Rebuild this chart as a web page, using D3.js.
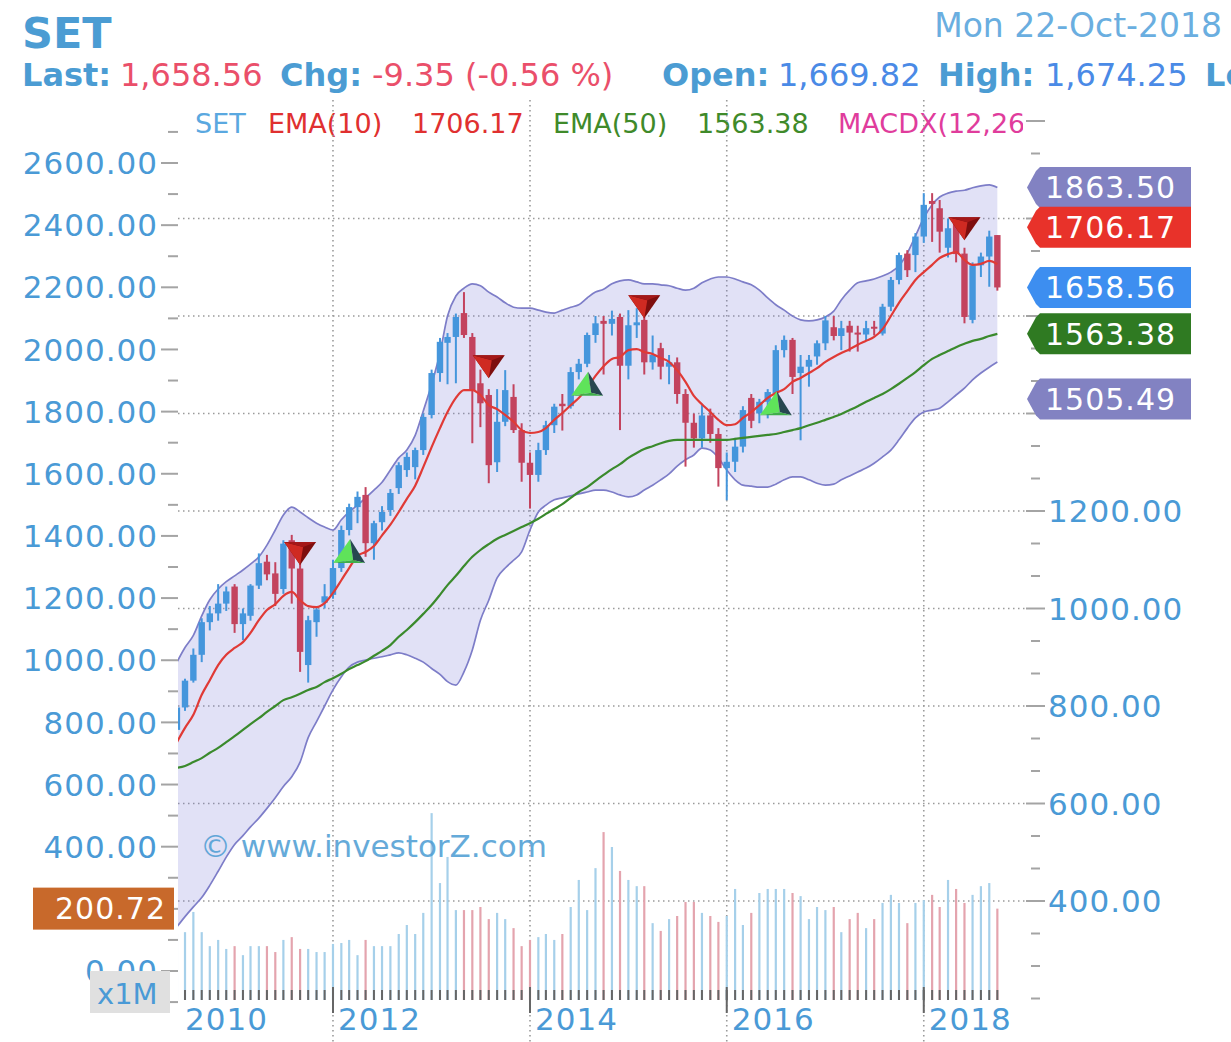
<!DOCTYPE html>
<html><head><meta charset="utf-8">
<script src="https://cdn.jsdelivr.net/npm/d3@7/dist/d3.min.js"></script>
<style>
html,body{margin:0;padding:0;background:#fff;}
svg{display:block;font-family:"DejaVu Sans",Verdana,sans-serif;}
</style></head><body>
<svg id="chart" width="1231" height="1042"></svg>
<script>
// ---------- DATA ----------
const months = [
"2010-06","2010-07","2010-08","2010-09","2010-10","2010-11","2010-12",
"2011-01","2011-02","2011-03","2011-04","2011-05","2011-06","2011-07","2011-08","2011-09","2011-10","2011-11","2011-12",
"2012-01","2012-02","2012-03","2012-04","2012-05","2012-06","2012-07","2012-08","2012-09","2012-10","2012-11","2012-12",
"2013-01","2013-02","2013-03","2013-04","2013-05","2013-06","2013-07","2013-08","2013-09","2013-10","2013-11","2013-12",
"2014-01","2014-02","2014-03","2014-04","2014-05","2014-06","2014-07","2014-08","2014-09","2014-10","2014-11","2014-12",
"2015-01","2015-02","2015-03","2015-04","2015-05","2015-06","2015-07","2015-08","2015-09","2015-10","2015-11","2015-12",
"2016-01","2016-02","2016-03","2016-04","2016-05","2016-06","2016-07","2016-08","2016-09","2016-10","2016-11","2016-12",
"2017-01","2017-02","2017-03","2017-04","2017-05","2017-06","2017-07","2017-08","2017-09","2017-10","2017-11","2017-12",
"2018-01","2018-02","2018-03","2018-04","2018-05","2018-06","2018-07","2018-08","2018-09","2018-10"];

const open = [
751,797,852,905,972,990,1010,
1045,968,985,1047,1096,1072,1040,1140,1082,884,972,1012,
1028,1083,1161,1208,1233,1134,1177,1202,1247,1284,1290,1325,
1397,1483,1545,1557,1606,1557,1462,1438,1300,1383,1434,1366,
1299,1274,1325,1376,1420,1415,1485,1502,1561,1590,1584,1598,
1498,1581,1592,1505,1534,1496,1505,1440,1381,1349,1396,1358,
1288,1301,1332,1432,1400,1424,1441,1530,1551,1483,1496,1517,
1544,1577,1559,1580,1566,1562,1578,1564,1619,1674,1728,1725,
1763,1836,1821,1740,1790,1728,1592,1704,1722,1766];
const high = [
800,856,918,980,1005,1050,1045,
1050,1000,1050,1113,1110,1095,1140,1151,1095,985,1005,1050,
1100,1170,1215,1240,1249,1180,1210,1245,1300,1320,1330,1400,
1490,1555,1565,1605,1649,1565,1490,1450,1450,1489,1460,1380,
1320,1340,1385,1420,1440,1495,1512,1566,1600,1600,1611,1605,
1612,1616,1600,1560,1545,1520,1515,1450,1400,1420,1410,1370,
1320,1350,1415,1440,1430,1450,1540,1560,1555,1520,1520,1550,
1600,1600,1590,1590,1580,1590,1590,1625,1680,1730,1735,1770,
1852,1852,1838,1800,1802,1740,1710,1730,1775,1766];
const low = [
738,790,848,890,955,975,995,
950,935,975,1040,1058,1005,1030,1010,870,848,942,1000,
1020,1075,1150,1175,1106,1100,1160,1190,1235,1270,1265,1315,
1390,1465,1460,1462,1555,1339,1372,1257,1280,1374,1360,1260,
1205,1260,1315,1360,1365,1410,1470,1495,1545,1480,1560,1366,
1470,1555,1480,1490,1470,1460,1420,1291,1330,1330,1340,1250,
1222,1280,1320,1370,1380,1390,1430,1515,1440,1345,1455,1500,
1530,1550,1530,1527,1527,1550,1560,1560,1610,1665,1680,1690,
1750,1752,1730,1720,1710,1585,1585,1680,1660,1652];
const close = [
797,852,905,972,990,1010,1035,
968,990,1047,1093,1070,1030,1133,1082,911,976,998,1025,
1083,1161,1208,1229,1134,1175,1198,1237,1294,1311,1325,1393,
1483,1547,1557,1598,1561,1448,1421,1294,1383,1448,1366,1299,
1274,1325,1376,1414,1415,1485,1502,1561,1585,1584,1594,1498,
1581,1587,1505,1520,1496,1505,1440,1381,1349,1396,1358,1288,
1301,1332,1407,1385,1424,1444,1530,1551,1475,1496,1510,1544,
1591,1559,1575,1566,1562,1575,1576,1619,1674,1725,1694,1763,
1828,1830,1773,1780,1727,1598,1704,1722,1763,1658.56];
// volume (x1M)
const volume = [
120,125,190,125,80,100,71,
80,51,80,80,80,61,100,109,71,71,61,61,
87,90,100,51,100,80,80,80,119,148,119,187,
508,283,367,196,196,196,206,167,187,167,138,80,
100,109,119,100,119,206,293,196,331,447,399,322,
293,273,273,154,129,167,177,222,222,187,177,158,
177,264,148,187,251,264,264,264,251,241,167,206,
196,206,125,167,187,138,167,219,245,219,154,219,
228,245,206,293,264,219,245,273,283,200.72];
const ema10 = [
726,755,782,823,853,884,905,
919,931,950,976,997,1009,1026,1034,1017,1005,1003,1011,
1032,1058,1083,1108,1116,1128,1150,1172,1198,1225,1252,1290,
1331,1370,1403,1432,1448,1448,1438,1417,1409,1397,1383,1366,
1360,1362,1370,1387,1401,1417,1432,1452,1477,1497,1512,1516,
1530,1532,1526,1522,1514,1506,1489,1465,1436,1419,1403,1387,
1376,1378,1391,1403,1417,1432,1442,1450,1465,1473,1483,1493,
1506,1516,1524,1532,1541,1549,1557,1573,1600,1627,1651,1674,
1690,1705,1719,1727,1731,1715,1705,1707,1713,1706.17];
const ema50 = [
673,677,685,693,704,714,726,
738,751,763,775,788,800,812,818,825,833,839,849,
857,866,876,884,892,903,913,925,942,956,972,989,
1007,1028,1048,1067,1087,1106,1120,1132,1143,1151,1159,1167,
1175,1184,1194,1204,1214,1227,1239,1249,1262,1274,1286,1296,
1309,1319,1327,1333,1339,1344,1346,1346,1346,1346,1346,1346,
1346,1348,1350,1352,1354,1356,1358,1362,1366,1370,1376,1381,
1387,1393,1399,1407,1415,1424,1432,1440,1450,1461,1473,1485,
1499,1512,1520,1528,1536,1543,1549,1553,1559,1563.38];
const bbUpper = [
890,920,945,985,1018,1040,1055,
1067,1079,1091,1106,1130,1161,1192,1208,1198,1186,1175,1167,
1161,1182,1198,1212,1227,1243,1259,1284,1309,1325,1355,1405,
1460,1524,1600,1641,1657,1666,1662,1649,1639,1627,1618,1616,
1616,1612,1608,1606,1612,1618,1623,1637,1649,1655,1666,1672,
1674,1670,1666,1666,1664,1662,1657,1653,1657,1668,1676,1680,
1680,1676,1670,1664,1653,1637,1623,1612,1600,1592,1590,1592,
1598,1610,1633,1653,1668,1672,1676,1682,1690,1703,1729,1764,
1801,1828,1844,1852,1856,1858,1863,1867,1869,1863.50];
const bbLower = [
347,368,388,407,432,461,490,
516,534,552,570,590,612,635,655,685,735,768,800,
833,860,880,890,894,898,901,905,909,905,898,890,
877,865,850,843,870,915,976,1017,1063,1083,1099,1116,
1161,1198,1212,1223,1227,1231,1235,1239,1243,1243,1239,1233,
1229,1233,1243,1253,1264,1276,1292,1305,1315,1329,1325,1309,
1284,1264,1253,1251,1249,1249,1255,1264,1270,1270,1264,1257,
1253,1255,1264,1272,1280,1288,1298,1311,1325,1346,1370,1391,
1403,1407,1411,1424,1438,1452,1469,1483,1495,1505.49];

const sellMonths = ["2011-09","2013-08","2015-03","2018-06"];
const sellPrices = [1114,1497,1620,1780];
const buyMonths  = ["2012-03","2014-08","2016-07"];
const buyPrices  = [1116,1459,1419];

const leftTickValues  = [0,200,400,600,800,1000,1200,1400,1600,1800,2000,2200,2400,2600];
const rightTickLabels = [400,600,800,1000,1200];
const gridPrices      = [400,600,800,1000,1200,1400,1600,1800];
const yearLabels      = ["2010","2012","2014","2016","2018"];
const gridYears       = ["2012","2014","2016","2018"];

const badgeNames  = ["last","ema50","upper","ema10","lower"];
const badgeValues = [1658.56,1563.38,1863.50,1706.17,1505.49];
const lastVolume  = 200.72;

const legendItems = ["SET","EMA(10)","1706.17","EMA(50)","1563.38","MACDX(12,26,9)"];

// ---------- STYLE ----------
const C = {
  blue:"#4b9cd3", axisTxt:"#4a9ad6", up:"#4596dc", down:"#c3435e",
  volUp:"#a6d0ea", volDown:"#e4a4ae", grid:"#9a9a9a", tick:"#a4a4a4",
  band:"rgba(118,118,214,0.22)", bandLine:"#7d7dc8", ema10:"#e03a36", ema50:"#3a8a2c"
};
const badgeColor = {last:"#3d8ef0", ema50:"#2f7a22", upper:"#8282c2", ema10:"#e8322a", lower:"#8282c2"};
const legendColor = ["#5aa8e0","#e03030","#e03030","#3f8a2a","#3f8a2a","#e03c9c"];
const legendX = [195,268,412,553,697,838];

// ---------- SCALES ----------
const svg = d3.select("#chart");
const parse = d3.timeParse("%Y-%m");
const dates = months.map(parse);
const PL = 178, PR = 1027;
const x = d3.scaleTime().domain([new Date(2010,5,5), new Date(2019,0,19)]).range([PL, PR]);
const yR = d3.scaleLinear().domain([400,1200]).range([901,511]);
const yL = d3.scaleLinear().domain([0,2600]).range([971,163]);

const data = dates.map((d,i)=>({d, o:open[i], h:high[i], l:low[i], c:close[i], v:volume[i],
  e10:ema10[i], e50:ema50[i], up:bbUpper[i], lo:bbLower[i]}));

const defs = svg.append("defs");
defs.append("clipPath").attr("id","plotclip").append("rect")
  .attr("x",PL).attr("y",0).attr("width",PR-PL).attr("height",1042);
defs.append("clipPath").attr("id","legclip").append("rect")
  .attr("x",PL).attr("y",95).attr("width",PR-PL-4).attr("height",60);

// ---------- HEADER ----------
svg.append("text").attr("x",22).attr("y",48).attr("font-size",43).attr("font-weight","bold")
  .attr("fill",C.blue).text("SET");
svg.append("text").attr("x",1222).attr("y",37).attr("text-anchor","end").attr("font-size",33)
  .attr("fill","#6aaee0").text("Mon 22-Oct-2018");
const hdr = [
  {t:"Last:",x:22,b:true,c:C.blue},{t:"1,658.56",x:120,c:"#ea4f6a"},
  {t:"Chg:",x:280,b:true,c:C.blue},{t:"-9.35 (-0.56 %)",x:372,c:"#ea4f6a"},
  {t:"Open:",x:662,b:true,c:C.blue},{t:"1,669.82",x:778,c:"#4a8ae6"},
  {t:"High:",x:938,b:true,c:C.blue},{t:"1,674.25",x:1045,c:"#4a8ae6"},
  {t:"Low:",x:1205,b:true,c:C.blue}];
hdr.forEach(h=>svg.append("text").attr("x",h.x).attr("y",86).attr("font-size",32)
  .attr("font-weight",h.b?"bold":"normal").attr("fill",h.c).text(h.t));

// legend
const leg = svg.append("g").attr("clip-path","url(#legclip)");
legendItems.forEach((t,i)=>leg.append("text").attr("x",legendX[i]).attr("y",133)
  .attr("font-size",27).attr("fill",legendColor[i]).text(t));

// ---------- GRID ----------
const grid = svg.append("g").attr("stroke",C.grid).attr("stroke-width",1.6).attr("stroke-dasharray","1.5,3.5");
gridPrices.forEach(p=>grid.append("line").attr("x1",PL).attr("x2",PR).attr("y1",yR(p)).attr("y2",yR(p)));
gridYears.forEach(yr=>{const xx=x(parse(yr+"-01"));
  grid.append("line").attr("x1",xx).attr("x2",xx).attr("y1",100).attr("y2",1042);});

// ---------- AXES ----------
const vy = yL(lastVolume);
// left axis (volume x1M)
const leftMinor = d3.range(-200,2701,100).filter(v=>v%200!==0);
const lax = svg.append("g").attr("stroke",C.tick).attr("stroke-width",2);
leftTickValues.forEach(v=>lax.append("line").attr("x1",161).attr("x2",PL).attr("y1",yL(v)).attr("y2",yL(v)));
leftMinor.forEach(v=>lax.append("line").attr("x1",168).attr("x2",PL).attr("y1",yL(v)).attr("y2",yL(v)));
// labels hidden under the last-volume badge are not drawn
leftTickValues.filter(v=>Math.abs(yL(v)-vy)>30).forEach(v=>svg.append("text").attr("x",158).attr("y",yL(v)).attr("dy","0.36em")
  .attr("text-anchor","end").attr("font-size",31).attr("letter-spacing",1).attr("fill",C.axisTxt)
  .text(d3.format(".2f")(v)));

// right axis (price)
const rTicks = d3.range(0,28).map(k=>200+k*200/3).filter(v=>v<=2000.1);
const rax = svg.append("g").attr("stroke",C.tick).attr("stroke-width",2);
rTicks.forEach(v=>{const major=Math.abs(v/200-Math.round(v/200))<1e-6 && v>200.1;
  rax.append("line").attr("x1",major?1026:1031).attr("x2",major?1045:1040).attr("y1",yR(v)).attr("y2",yR(v));});
rightTickLabels.forEach(v=>svg.append("text").attr("x",1048).attr("y",yR(v)).attr("dy","0.36em")
  .attr("font-size",31).attr("letter-spacing",1).attr("fill",C.axisTxt).text(d3.format(".2f")(v)));

// ---------- PLOT ----------
const plot = svg.append("g").attr("clip-path","url(#plotclip)");

// volume bars
plot.append("g").selectAll("line").data(data).join("line")
  .attr("x1",d=>x(d.d)).attr("x2",d=>x(d.d)).attr("y1",1000).attr("y2",d=>yL(d.v))
  .attr("stroke",d=>d.c>=d.o?C.volUp:C.volDown).attr("stroke-width",2.2);
// month ticks
plot.append("g").selectAll("line").data(data).join("line")
  .attr("x1",d=>x(d.d)).attr("x2",d=>x(d.d)).attr("y1",990).attr("y2",1000)
  .attr("stroke","#666").attr("stroke-width",2);
// year ticks
gridYears.forEach(yr=>{const xx=x(parse(yr+"-01"));
  svg.append("line").attr("x1",xx).attr("x2",xx).attr("y1",987).attr("y2",1013).attr("stroke","#666").attr("stroke-width",2);});
yearLabels.forEach(yr=>{const xx=Math.max(x(parse(yr+"-01"))+5, PL+7);
  svg.append("text").attr("x",xx).attr("y",1030).attr("font-size",31).attr("letter-spacing",1)
    .attr("fill",C.axisTxt).text(yr);});

// bollinger band
plot.append("path").datum(data)
  .attr("d",d3.area().x(d=>x(d.d)).y0(d=>yR(d.lo)).y1(d=>yR(d.up)).curve(d3.curveMonotoneX))
  .attr("fill",C.band);
["up","lo"].forEach(k=>plot.append("path").datum(data)
  .attr("d",d3.line().x(d=>x(d.d)).y(d=>yR(d[k])).curve(d3.curveMonotoneX))
  .attr("fill","none").attr("stroke",C.bandLine).attr("stroke-width",1.7));

// candles
const cg = plot.append("g");
data.forEach(d=>{
  const col = d.c>=d.o?C.up:C.down, xx=x(d.d);
  cg.append("line").attr("x1",xx).attr("x2",xx).attr("y1",yR(d.h)).attr("y2",yR(d.l))
    .attr("stroke",col).attr("stroke-width",2);
  const y1=yR(Math.max(d.o,d.c)), y2=yR(Math.min(d.o,d.c));
  cg.append("rect").attr("x",xx-3.2).attr("width",6.4).attr("y",y1).attr("height",Math.max(2,y2-y1))
    .attr("fill",col);
});

// EMAs
plot.append("path").datum(data).attr("d",d3.line().x(d=>x(d.d)).y(d=>yR(d.e50)).curve(d3.curveMonotoneX))
  .attr("fill","none").attr("stroke",C.ema50).attr("stroke-width",2.2);
plot.append("path").datum(data).attr("d",d3.line().x(d=>x(d.d)).y(d=>yR(d.e10)).curve(d3.curveMonotoneX))
  .attr("fill","none").attr("stroke",C.ema10).attr("stroke-width",2.2);

// signal markers
const mk = svg.append("g");
sellMonths.forEach((m,i)=>{
  const cx=x(parse(m)), cy=yR(sellPrices[i]), top=cy-11, tip=cy+12;
  mk.append("polygon").attr("points",[[cx-16,top],[cx+16,top],[cx,tip]].join(" ")).attr("fill","#7e0e0e");
  mk.append("polygon").attr("points",[[cx-16,top],[cx+3,top+5],[cx,tip]].join(" ")).attr("fill","#cf2a22");
  mk.append("polygon").attr("points",[[cx-16,top],[cx+16,top],[cx+3,top+5]].join(" ")).attr("fill","#a41818");
});
buyMonths.forEach((m,i)=>{
  const cx=x(parse(m)), cy=yR(buyPrices[i]), apex=cy-13, base=cy+11;
  mk.append("polygon").attr("points",[[cx+1,apex],[cx-16,base],[cx+4,base-3]].join(" ")).attr("fill","#5fe35a");
  mk.append("polygon").attr("points",[[cx+1,apex],[cx+4,base-3],[cx+16,base]].join(" ")).attr("fill","#274750");
  mk.append("polygon").attr("points",[[cx-16,base],[cx+4,base-3],[cx+16,base]].join(" ")).attr("fill","#3fae4a");
});

// ---------- BADGES ----------
const BH = 41, SHIFT = 37, placed = [];
badgeNames.forEach((n,i)=>{
  let y = yR(badgeValues[i]);
  const hit = placed.find(p=>Math.abs(p-y) < BH-1);
  if (hit!==undefined) y = y < hit ? y - SHIFT : y + SHIFT;
  placed.push(y);
  const t=y-BH/2, b=y+BH/2;
  svg.append("polygon").attr("points",[[1027,y],[1036,t+4],[1040,t],[1191,t],[1191,b],[1040,b],[1036,b-4]].join(" "))
    .attr("fill",badgeColor[n]);
  svg.append("text").attr("x",1045).attr("y",y).attr("dy","0.36em").attr("font-size",30).attr("letter-spacing",1)
    .attr("fill","#fff").text(d3.format(".2f")(badgeValues[i]));
});
// left volume badge
svg.append("rect").attr("x",33).attr("y",vy-21).attr("width",141).attr("height",42).attr("fill","#c8692b");
svg.append("text").attr("x",166).attr("y",vy).attr("dy","0.36em").attr("text-anchor","end")
  .attr("font-size",30).attr("letter-spacing",1).attr("fill","#fff").text(d3.format(".2f")(lastVolume));
// x1M box
svg.append("rect").attr("x",90).attr("y",971).attr("width",80).attr("height",42).attr("fill","#e0e0e0");
svg.append("text").attr("x",97).attr("y",1004).attr("font-size",29).attr("fill",C.axisTxt).text("x1M");

// watermark
svg.append("text").attr("x",200).attr("y",857).attr("font-size",31).attr("fill",C.blue)
  .attr("opacity",0.85).text("© www.investorZ.com");
</script>
</body></html>
